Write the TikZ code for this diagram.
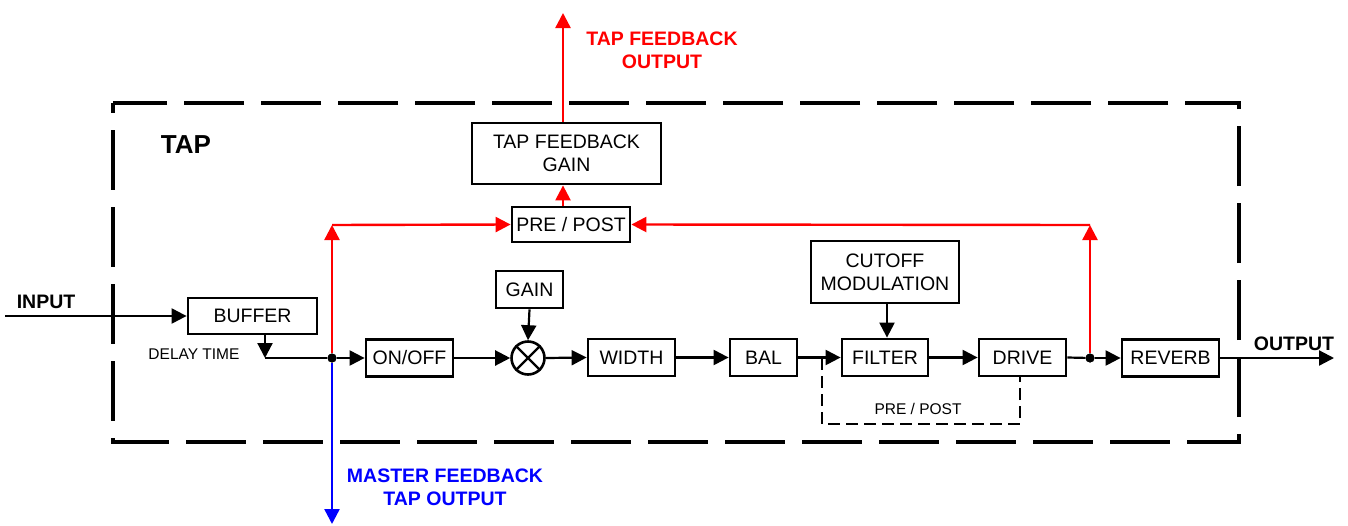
\documentclass[tikz,border=0pt]{standalone}
\usepackage{fontspec}
\setmainfont{Liberation Sans}
\usetikzlibrary{arrows.meta}
\begin{document}
\begin{tikzpicture}[x=1pt,y=-1pt,
  blk/.style={draw, line width=2.8pt, inner sep=0pt, align=center, font=\fontsize{19.5}{23}\selectfont},
  sig/.style={line width=2.2pt},
  arr/.style={sig, -{Triangle[length=15pt,width=15pt]}},
  redarr/.style={line width=2.4pt, red, -{Triangle[length=15pt,width=15pt]}},
  bluearr/.style={line width=2.4pt, blue, -{Triangle[length=15pt,width=15pt]}},
  lbl/.style={inner sep=0pt, font=\fontsize{19.5}{23}\selectfont\bfseries, align=center},
  small/.style={inner sep=0pt, font=\fontsize{15.5}{18}\selectfont},
  dotn/.style={circle, fill=black, inner sep=0pt, minimum size=9pt}
]
\useasboundingbox (0,0) rectangle (1348,525);

% outer dashed frame
\draw[line width=4pt, dash pattern=on 60pt off 17pt, dash phase=50pt] (113,103) rectangle (1239,442);

% blocks
\node[blk, minimum width=129pt, minimum height=36pt] (buf) at (252.5,316) {BUFFER};
\node[blk, minimum width=87pt, minimum height=37pt] (onoff) at (409.5,358) {ON/OFF};
\node[draw, circle, line width=2.6pt, minimum size=33pt, inner sep=0pt] (mult) at (528,358) {};
\node[blk, minimum width=67pt, minimum height=37pt] (gain) at (529.5,289.5) {GAIN};
\node[blk, minimum width=87pt, minimum height=37pt] (width) at (631.5,357.5) {WIDTH};
\node[blk, minimum width=67pt, minimum height=37pt] (bal) at (763.5,357.5) {BAL};
\node[blk, minimum width=86pt, minimum height=37pt] (filter) at (885,357.5) {FILTER};
\node[blk, minimum width=87pt, minimum height=37pt] (drive) at (1022.5,357.5) {DRIVE};
\node[blk, minimum width=97pt, minimum height=37pt] (reverb) at (1170.5,358) {REVERB};
\node[blk, minimum width=148pt, minimum height=62pt] (cutoff) at (885,272) {CUTOFF\\MODULATION};
\node[blk, minimum width=118pt, minimum height=35pt] (prepost) at (571,224.5) {PRE / POST};
\node[blk, minimum width=189pt, minimum height=61pt] (tfg) at (566.5,153.5) {TAP FEEDBACK\\GAIN};

% multiplier cross
\draw[line width=2.4pt] (mult.north west) -- (mult.south east) (mult.north east) -- (mult.south west);

% junction dots and helper coordinates
\node[dotn] (j1) at (332,358) {};
\node[dotn] (j2) at (1090,358) {};
\coordinate (in) at (5,316);
\coordinate (dl) at (265,358);
\coordinate (out) at (1334,358);
\coordinate (r1) at (332,225);
\coordinate (r2) at (1090,225);
\coordinate (tfo) at (563,13);
\coordinate (mfo) at (332,524);
\coordinate (pp1) at (822,358);
\coordinate (pp2) at (822,424);
\coordinate (pp3) at (1020,424);

% labels
\node[lbl] (inputl) at (46,302) {INPUT};
\node[small] (delayl) at (194,354) {DELAY TIME};
\node[lbl] (outputl) at (1294,344) {OUTPUT};
\node[inner sep=0pt, font=\fontsize{26}{30}\selectfont\bfseries] (tapl) at (186,145) {TAP};
\node[lbl, text=red] (tfol) at (662,50.5) {TAP FEEDBACK\\OUTPUT};
\node[lbl, text=blue] (mfol) at (445,487.5) {MASTER FEEDBACK\\TAP OUTPUT};
\node[small] (ppl) at (918,409) {PRE / POST};

% main signal path
\draw[arr] (in) -- (buf.west);
\draw[arr] (buf.south -| dl) -- (dl);
\draw[sig] (dl) -- (j1);
\draw[arr] (j1) -- (onoff.west);
\draw[arr] (onoff.east) -- (mult.west);
\draw[arr] (gain.south) -- (mult.north);
\draw[arr] (mult.east) -- (width.west);
\draw[arr] (width.east) -- (bal.west);
\draw[arr] (bal.east) -- (filter.west);
\draw[arr] (cutoff.south -| 887,0) -- (filter.north -| 887,0);
\draw[arr] (filter.east) -- (drive.west);
\draw[sig] (drive.east) -- (j2);
\draw[arr] (j2) -- (reverb.west);
\draw[arr] (reverb.east) -- (out);

% pre/post dashed bypass
\draw[line width=2pt, dash pattern=on 12pt off 6pt] (pp1) -- (pp2) -- (pp3) -- (drive.south -| pp3);

% red tap feedback
\draw[redarr] (j1) -- (r1);
\draw[redarr] (r1) -- (prepost.west);
\draw[redarr] (j2) -- (r2);
\draw[redarr] (r2) -- (prepost.east);
\draw[redarr] (prepost.north -| tfo) -- (tfg.south -| tfo);
\draw[redarr] (tfg.north -| tfo) -- (tfo);

% blue master feedback
\draw[bluearr] (j1) -- (mfo);
\node[dotn] at (j1) {};
\node[dotn] at (j2) {};
\end{tikzpicture}
\end{document}
